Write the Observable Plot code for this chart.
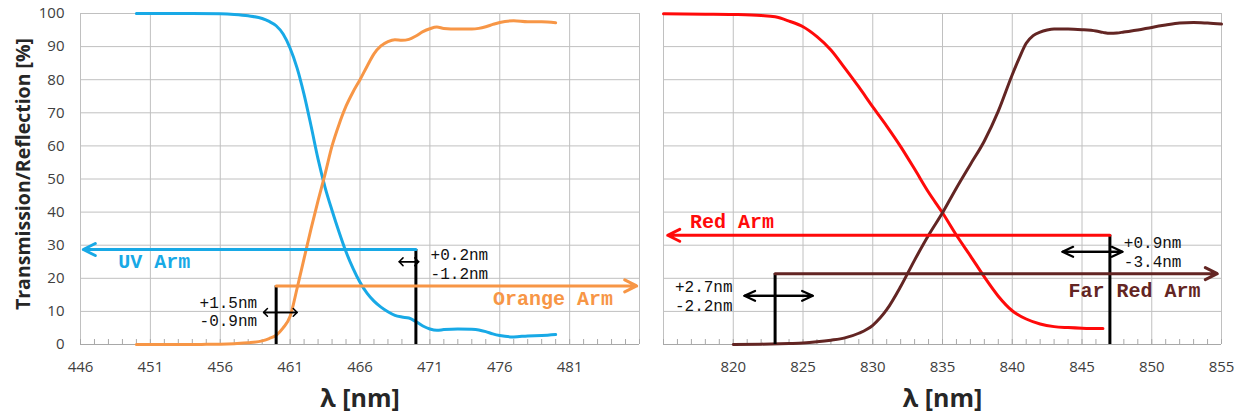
<!DOCTYPE html>
<html><head><meta charset="utf-8">
<script src="https://cdn.jsdelivr.net/npm/d3@7"></script>
<script src="https://cdn.jsdelivr.net/npm/@observablehq/plot@0.6"></script>
<style>
body{margin:0;background:#fff;}
#wrap{display:flex;width:1241px;height:416px;overflow:hidden;}
</style></head><body><div id="wrap"></div>
<script>
// ---------- data ----------
const yTicks = [0,10,20,30,40,50,60,70,80,90,100];
const xTicksLeft = [446,451,456,461,466,471,476,481];
const xEdgeLeft = 486;
const xTicksRight = [820,825,830,835,840,845,850,855];
const xEdgeRight = 815;

// UV arm (transmission, blue)
const uvWl = [450,452,454,456,457,458,459,459.5,460,460.5,461,461.5,462,462.5,463,463.5,464,464.5,465,465.5,466,466.5,467,467.5,468,468.5,469,469.5,470,470.5,471,471.5,472,473,474,474.5,475,475.5,476,477,478,479,480];
const uvVal = [100,100,100,99.9,99.7,99.3,98.5,97.6,96.3,93.8,89.5,83.5,75.5,66,56,47.5,40.5,34,28,23,18.8,15.5,13.1,11.3,9.9,8.8,8.3,8.0,6.9,5.6,4.7,4.3,4.5,4.7,4.6,4.4,3.9,3.2,2.7,2.3,2.6,2.7,3.0];
// Orange arm (reflection, orange)
const orWl = [450,452,454,455,456,457,458,459,459.5,460,460.5,461,461.5,462,462.5,463,463.5,464,464.5,465,465.5,466,466.5,467,467.5,468,468.5,469,469.5,470,470.5,471,471.5,472,473,474,474.5,475,475.5,476,477,478,479,480];
const orVal = [0,0,0,0.05,0.1,0.25,0.5,1.1,1.8,2.8,5,8.5,17,26,35,43.5,51.5,60,66.5,72,76.3,80,84,87.8,90.2,91.5,92.1,91.9,92.2,93.2,94.5,95.4,95.9,95.5,95.3,95.3,95.5,96,96.7,97.3,97.8,97.5,97.5,97.2];
// Red arm (transmission, red)
const redWl = [815,818,820,822,823,824,825,826,827,828,829,830,831,832,833,834,835,836,837,838,839,840,841,842,843,844,845,846,846.5];
const redVal = [99.9,99.8,99.7,99.4,99.0,97.7,96,93,89,83.5,77.8,71.8,66,59.8,53,46,39.8,33,26.8,20.4,14.6,10.2,7.7,6.2,5.4,5.1,4.9,4.8,4.8];
// Far red arm (reflection, dark red)
const frWl = [820,822,824,825,826,827,828,829,830,831,832,833,834,835,836,837,838,839,840,840.5,841,841.5,842,842.5,843,844,845,846,846.5,847,847.5,848,849,850,851,852,853,854,855];
const frVal = [0,0.1,0.3,0.45,0.8,1.3,2,3.4,5.8,10.5,17.5,25.5,33,39.8,47.3,54.4,61.5,70.5,81.5,86.5,91,93.3,94.4,95,95.3,95.3,95.1,94.7,94.3,94,94.1,94.4,95,95.8,96.5,97.1,97.3,97.1,96.8];

// Arm annotations: edge wavelength, level [%], arrow tip wavelength, tolerances
const leftArmNames = ["UV Arm", "Orange Arm"];
const leftArmEdges = [470, 460];
const leftArmLevels = [28.7, 17.7];
const leftArmTips = [446.2, 485.8];
const leftTolMinus = [1.2, 0.9];
const leftTolPlus = [0.2, 1.5];
const leftTolLevels = [25, 9.7];

const rightArmNames = ["Red Arm", "Far Red Arm"];
const rightArmEdges = [847, 823];
const rightArmLevels = [33, 21.4];
const rightArmTips = [815.3, 854.7];
const rightTolMinus = [3.4, 2.2];
const rightTolPlus = [0.9, 2.7];
const rightTolLevels = [28, 14.7];

// ---------- styles ----------
const BLUE = "#18a9e6", ORANGE = "#f79646", RED = "#ff0a0a", DARKRED = "#632523";
const GRID = "#c0c0c0";
const MONO = "Liberation Mono, Courier New, monospace";

const pts = (wl, v) => wl.map((x, i) => ({x, y: v[i]}));

function tolText(m, p) { return `+${p.toFixed(1)}nm\n-${m.toFixed(1)}nm`; }

function panel(cfg) {
  const marks = [
    Plot.gridY(yTicks, {stroke: GRID, strokeOpacity: 1}),
    Plot.gridX(cfg.grid, {stroke: GRID, strokeOpacity: 1}),
    Plot.ruleX(d3.range(cfg.domain[0], cfg.domain[1] + 1), {y1: 0, y2: 1.5, stroke: "#a8a8a8"}),
    Plot.ruleY([0], {stroke: "#a8a8a8"}),
  ];
  for (const c of cfg.curves) {
    marks.push(Plot.line(c.data, {x: "x", y: "y", stroke: c.color, strokeWidth: 3, curve: "monotone-x"}));
  }
  cfg.arms.forEach(a => {
    marks.push(Plot.ruleX([a.edge], {y1: 0, y2: a.level, stroke: "#000", strokeWidth: 3}));
  });
  cfg.arms.forEach(a => {
    marks.push(Plot.arrow([a], {x1: "edge", x2: "tip", y1: "level", y2: "level", stroke: a.color, strokeWidth: 3, headLength: 6.7, headAngle: 53}));
    const lo = a.edge - a.minus, hi = a.edge + a.plus;
    const tol = [{x1: lo, x2: hi, y: a.tolLevel}, {x1: hi, x2: lo, y: a.tolLevel}];
    marks.push(Plot.arrow(tol, {x1: "x1", x2: "x2", y1: "y", y2: "y", stroke: "#000", strokeWidth: cfg.tolWidth, headLength: cfg.tolHead, headAngle: cfg.tolAngle}));
    marks.push(Plot.text([a.name], {x: a.labelX, y: a.labelY, textAnchor: a.labelAnchor, fill: a.color, fontFamily: MONO, fontWeight: "bold", fontSize: 20}));
    marks.push(Plot.text([tolText(a.minus, a.plus)], {x: a.tolX, y: a.tolLevel + a.tolDy, textAnchor: a.tolAnchor, fill: "#111", fontFamily: MONO, fontSize: 16, lineHeight: 1.16}));
  });
  marks.push(Plot.axisX({ticks: cfg.ticks, tickSize: 0, tickPadding: 17, label: null, fontSize: 15, fill: "#404040"}));
  if (cfg.yAxis) {
    marks.push(Plot.axisY({ticks: yTicks, tickSize: 0, tickPadding: 16, label: null, fontSize: 15, fill: "#404040"}));
    marks.push(Plot.text(["Transmission/Reflection [%]"], {frameAnchor: "left", textAnchor: "middle", lineAnchor: "middle", dx: -57, dy: -5, rotate: -90, fontSize: 19.5, fontWeight: "bold", fill: "#262626"}));
  }
  marks.push(Plot.text(["λ [nm]"], {frameAnchor: "bottom", lineAnchor: "middle", dy: 54, fontSize: 25, fontWeight: "bold", fill: "#262626"}));
  return Plot.plot({
    width: cfg.width, height: 416,
    marginLeft: cfg.marginLeft, marginRight: cfg.marginRight, marginTop: 13, marginBottom: 72,
    x: {domain: cfg.domain},
    y: {domain: [0, 100], axis: null},
    style: {fontFamily: "Open Sans", fontSize: "15px", background: "#fff", overflow: "visible"},
    marks
  });
}

const leftLabelX = [448.7, 484.1], leftLabelY = [24.9, 13.9], leftLabelAnchor = ["start", "end"];
const leftTolX = [471.05, 458.64], leftTolAnchor = ["start", "end"], leftTolDy = [-0.5, 0.35];
const rightLabelX = [816.9, 853.5], rightLabelY = [37.25, 16.25], rightLabelAnchor = ["start", "end"];
const rightTolX = [848.0, 819.95], rightTolAnchor = ["start", "end"], rightTolDy = [0, 0.1];

const leftArms = leftArmNames.map((name, i) => ({
  name, edge: leftArmEdges[i], level: leftArmLevels[i], tip: leftArmTips[i],
  minus: leftTolMinus[i], plus: leftTolPlus[i], tolLevel: leftTolLevels[i],
  color: [BLUE, ORANGE][i],
  labelX: leftLabelX[i], labelY: leftLabelY[i], labelAnchor: leftLabelAnchor[i],
  tolX: leftTolX[i], tolAnchor: leftTolAnchor[i], tolDy: leftTolDy[i]
}));
const rightArms = rightArmNames.map((name, i) => ({
  name, edge: rightArmEdges[i], level: rightArmLevels[i], tip: rightArmTips[i],
  minus: rightTolMinus[i], plus: rightTolPlus[i], tolLevel: rightTolLevels[i],
  color: [RED, DARKRED][i],
  labelX: rightLabelX[i], labelY: rightLabelY[i], labelAnchor: rightLabelAnchor[i],
  tolX: rightTolX[i], tolAnchor: rightTolAnchor[i], tolDy: rightTolDy[i]
}));

const left = panel({
  width: 650, marginLeft: 80, marginRight: 11,
  domain: [xTicksLeft[0], xEdgeLeft], ticks: xTicksLeft, grid: [...xTicksLeft, xEdgeLeft],
  curves: [{data: pts(uvWl, uvVal), color: BLUE}, {data: pts(orWl, orVal), color: ORANGE}],
  arms: leftArms, tolWidth: 1.5, tolHead: 5.5, tolAngle: 90, yAxis: true
});
const right = panel({
  width: 591, marginLeft: 13, marginRight: 20,
  domain: [xEdgeRight, xTicksRight[xTicksRight.length - 1]], ticks: xTicksRight, grid: [xEdgeRight, ...xTicksRight],
  curves: [{data: pts(redWl, redVal), color: RED}, {data: pts(frWl, frVal), color: DARKRED}],
  arms: rightArms, tolWidth: 2.2, tolHead: 8, tolAngle: 50, yAxis: false
});
document.getElementById("wrap").append(left, right);
</script></body></html>
